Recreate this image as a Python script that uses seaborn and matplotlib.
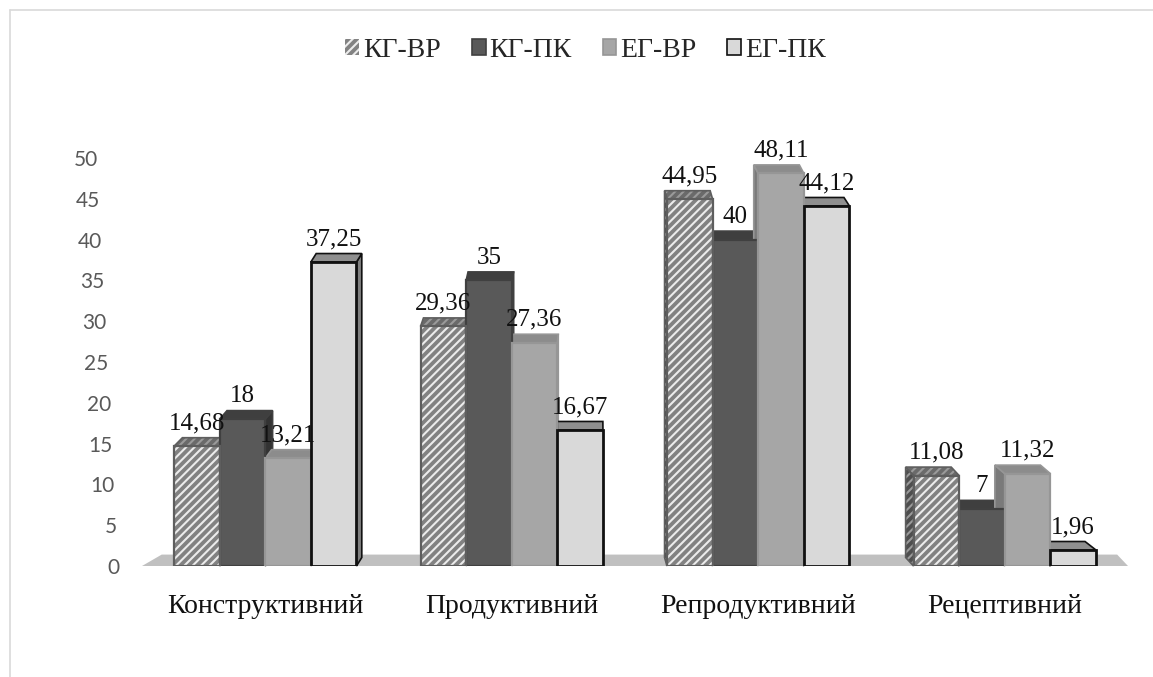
import matplotlib
matplotlib.use("Agg")
import matplotlib.pyplot as plt
import matplotlib.transforms as mtransforms
from matplotlib.patches import Polygon, Patch, Rectangle
from matplotlib.lines import Line2D
import numpy as np
import pandas as pd
import seaborn as sns

categories = ["Конструктивний", "Продуктивний", "Репродуктивний", "Рецептивний"]
series = ["КГ-ВР", "КГ-ПК", "ЕГ-ВР", "ЕГ-ПК"]
kg_vr = [14.68, 29.36, 44.95, 11.08]
kg_pk = [18, 35, 40, 7]
eg_vr = [13.21, 27.36, 48.11, 11.32]
eg_pk = [37.25, 16.67, 44.12, 1.96]
yticks = [0, 5, 10, 15, 20, 25, 30, 35, 40, 45, 50]

values = {"КГ-ВР": kg_vr, "КГ-ПК": kg_pk, "ЕГ-ВР": eg_vr, "ЕГ-ПК": eg_pk}
rows = []
for s in series:
    for c, v in zip(categories, values[s]):
        rows.append({"cat": c, "series": s, "value": v})
df = pd.DataFrame(rows)

face = {"КГ-ВР": "#828282", "КГ-ПК": "#595959", "ЕГ-ВР": "#a6a6a6", "ЕГ-ПК": "#d9d9d9"}
edge = {"КГ-ВР": "#5e5e5e", "КГ-ПК": "#404040", "ЕГ-ВР": "#969696", "ЕГ-ПК": "#111111"}
topc = {"КГ-ВР": "#6a6a6a", "КГ-ПК": "#3f3f3f", "ЕГ-ВР": "#8c8c8c", "ЕГ-ПК": "#8f8f8f"}
sidec = {"КГ-ВР": "#4e4e4e", "КГ-ПК": "#333333", "ЕГ-ВР": "#7a7a7a", "ЕГ-ПК": "#7f7f7f"}
stripe = "#ececec"

sns.set_theme(style="white")
plt.rcParams["hatch.linewidth"] = 1.5
plt.rcParams["font.family"] = ["Liberation Serif", "DejaVu Serif"]

W, H = 1153, 677
fig = plt.figure(figsize=(W / 100, H / 100), dpi=100)
ax = fig.add_axes([142 / W, (H - 566) / H, (1128 - 142) / W, (566 - 158) / H])

sns.barplot(data=df, x="cat", y="value", hue="series", order=categories,
            hue_order=series, palette=[face[s] for s in series], width=0.74,
            gap=0, saturation=1, ax=ax, legend=False, zorder=3)

ax.set_xlim(-0.5, 3.5)
ax.set_ylim(0, 50)
for sp in ax.spines.values():
    sp.set_visible(False)
ax.set_xlabel("")
ax.set_ylabel("")
ax.set_yticks(yticks)
ax.set_yticklabels([str(t) for t in yticks], family=["Lato", "DejaVu Sans"],
                   fontsize=15, color="#595959")
ax.tick_params(axis="y", length=0, pad=24)
ax.tick_params(axis="x", length=0, pad=20, labelsize=20, labelcolor="#111111")

# perspective shift of y tick labels (labels drift right toward the bottom)
fig.canvas.draw()
for t, tick in zip(yticks, ax.yaxis.get_major_ticks()):
    shift = (25 - t) * 0.42
    off = mtransforms.ScaledTranslation(shift / 100, 0, fig.dpi_scale_trans)
    tick.label1.set_transform(tick.label1.get_transform() + off)

# floor slab
floor = Polygon([(0, 0), (1, 0), (0.989, 0.028), (0.02, 0.028)], closed=True,
                transform=ax.transAxes, facecolor="#c0c0c0", edgecolor="none",
                zorder=1, clip_on=False)
ax.add_patch(floor)

fig.canvas.draw()
inv = ax.transData.inverted()
center_px = fig.bbox.width * 0.5
n_cat = len(categories)
HATCH = "////"
bars = [p for p in ax.patches if p is not floor]
for idx, p in enumerate(bars):
    s = series[idx // n_cat]
    x0, y0 = p.get_x(), p.get_y()
    w, h = p.get_width(), p.get_height()
    hatched = s == "КГ-ВР"
    if hatched:
        p.set_edgecolor(stripe)
        p.set_hatch(HATCH)
        p.set_linewidth(0)
        ax.add_patch(Rectangle((x0, y0), w, h, fill=False, edgecolor=edge[s],
                               linewidth=1.6, zorder=3.5))
    else:
        p.set_edgecolor(edge[s])
        p.set_linewidth(1.6 if s != "ЕГ-ПК" else 2.0)
    (dx0, dy0) = ax.transData.transform((x0, y0))
    (dx1, dy1) = ax.transData.transform((x0 + w, y0 + h))
    cx = 0.5 * (dx0 + dx1)
    ox = (center_px - cx) * 0.022
    oy = 8.5
    top = [(dx0, dy1), (dx1, dy1), (dx1 + ox, dy1 + oy), (dx0 + ox, dy1 + oy)]
    if ox >= 0:
        side = [(dx1, dy0), (dx1 + ox, dy0 + oy), (dx1 + ox, dy1 + oy), (dx1, dy1)]
    else:
        side = [(dx0, dy0), (dx0 + ox, dy0 + oy), (dx0 + ox, dy1 + oy), (dx0, dy1)]
    for poly, col in ((side, sidec[s]), (top, topc[s])):
        pts = inv.transform(np.array(poly))
        if hatched:
            ax.add_patch(Polygon(pts, closed=True, facecolor=col, edgecolor="#9a9a9a",
                                 linewidth=0, hatch=HATCH, zorder=2, clip_on=False))
            ax.add_patch(Polygon(pts, closed=True, fill=False, edgecolor=edge[s],
                                 linewidth=1.2, zorder=2.1, clip_on=False))
        else:
            ax.add_patch(Polygon(pts, closed=True, facecolor=col, edgecolor=edge[s],
                                 linewidth=1.2, zorder=2, clip_on=False))
    lbl = f"{h:g}".replace(".", ",")
    ax.annotate(lbl, (x0 + w / 2, y0 + h), xytext=(0, 8.5), textcoords="offset points",
                ha="center", va="bottom", fontsize=18, color="#111111",
                zorder=6, annotation_clip=False)

handles = []
for s in series:
    if s == "КГ-ВР":
        handles.append(Patch(facecolor=face[s], edgecolor=stripe, hatch=HATCH, linewidth=0))
    else:
        handles.append(Patch(facecolor=face[s], edgecolor=edge[s], linewidth=1.2))
fig.legend(handles, series, loc="center", bbox_to_anchor=(0.508, 0.926), ncol=4,
           frameon=False, fontsize=20, handlelength=0.5, handleheight=0.5,
           handletextpad=0.15, columnspacing=1.1)

# chart border
fig.add_artist(Line2D([10 / W, 1.0], [1 - 10 / H, 1 - 10 / H], transform=fig.transFigure,
                      color="#d9d9d9", linewidth=1.2))
fig.add_artist(Line2D([10 / W, 10 / W], [0, 1 - 10 / H], transform=fig.transFigure,
                      color="#d9d9d9", linewidth=1.2))

fig.savefig("out.png", dpi=100)
